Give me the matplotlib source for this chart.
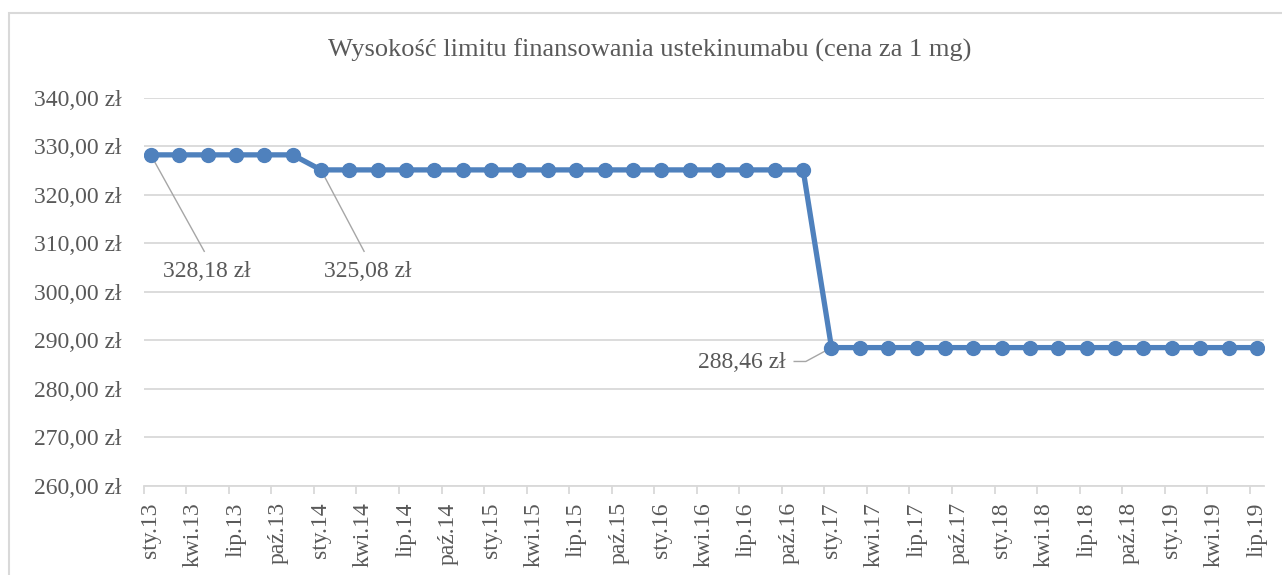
import matplotlib
matplotlib.use('Agg')
import matplotlib.pyplot as plt
from matplotlib.patches import Rectangle

# data: one point every two months, jan 2013 .. jul 2019
months = ['2013-01', '2013-03', '2013-05', '2013-07', '2013-09', '2013-11',
          '2014-01', '2014-03', '2014-05', '2014-07', '2014-09', '2014-11',
          '2015-01', '2015-03', '2015-05', '2015-07', '2015-09', '2015-11',
          '2016-01', '2016-03', '2016-05', '2016-07', '2016-09', '2016-11',
          '2017-01', '2017-03', '2017-05', '2017-07', '2017-09', '2017-11',
          '2018-01', '2018-03', '2018-05', '2018-07', '2018-09', '2018-11',
          '2019-01', '2019-03', '2019-05', '2019-07']
prices = [328.18, 328.18, 328.18, 328.18, 328.18, 328.18,
          325.08, 325.08, 325.08, 325.08, 325.08, 325.08,
          325.08, 325.08, 325.08, 325.08, 325.08, 325.08,
          325.08, 325.08, 325.08, 325.08, 325.08, 325.08,
          288.46, 288.46, 288.46, 288.46, 288.46, 288.46,
          288.46, 288.46, 288.46, 288.46, 288.46, 288.46,
          288.46, 288.46, 288.46, 288.46]
tick_labels = ['sty.13', 'kwi.13', 'lip.13', 'paź.13',
               'sty.14', 'kwi.14', 'lip.14', 'paź.14',
               'sty.15', 'kwi.15', 'lip.15', 'paź.15',
               'sty.16', 'kwi.16', 'lip.16', 'paź.16',
               'sty.17', 'kwi.17', 'lip.17', 'paź.17',
               'sty.18', 'kwi.18', 'lip.18', 'paź.18',
               'sty.19', 'kwi.19', 'lip.19']
title = 'Wysokość limitu finansowania ustekinumabu (cena za 1 mg)'

blue = '#4F81BD'
grey_txt = '#595959'
grid_c = '#D9D9D9'
font = 'Liberation Serif'
fs = 17

# month index from start of 2013, point sits in the middle of its month
def month_pos(s):
    y, m = s.split('-')
    return (int(y) - 2013) * 12 + int(m) - 1 + 0.5

x = [month_pos(m) for m in months]

W, H = 1282, 575
fig = plt.figure(figsize=(W / 100, H / 100), dpi=100)
fig.patches.append(Rectangle((9 / W, -0.05), 1.0, 1.05 - 13 / H, transform=fig.transFigure,
                             fill=False, edgecolor=grid_c, linewidth=1.5))

ax = fig.add_axes([143.7 / W, 89.3 / H, (1264 - 143.7) / W, (485.7 - 97.5) / H])
ax.plot(x, prices, color=blue, linewidth=3.8, marker='o', markersize=10,
        markeredgecolor=blue, zorder=3, solid_joinstyle='round')

ax.set_xlim(0, 79)
ax.set_ylim(260, 340)
ax.set_yticks(range(260, 341, 10))
ax.set_yticklabels(['%d,00 zł' % v for v in range(260, 341, 10)])
ax.grid(axis='y', color=grid_c, linewidth=1.3)
ax.set_axisbelow(True)

ax.set_xticks(range(0, 79, 3))
ax.set_xticklabels([])
ax.set_xticks([t + 0.5 for t in range(0, 79, 3)], minor=True)
ax.set_xticklabels(tick_labels, minor=True, rotation=90)
ax.tick_params(axis='x', which='major', length=6, color=grid_c, width=1.3)
ax.tick_params(axis='x', which='minor', length=0, pad=12, labelsize=fs,
               labelcolor=grey_txt)
ax.tick_params(axis='y', length=0, pad=16, labelsize=fs, labelcolor=grey_txt)
for lab in ax.get_xticklabels(minor=True) + ax.get_yticklabels():
    lab.set_fontfamily(font)

for s in ['left', 'right', 'top']:
    ax.spines[s].set_visible(False)
ax.spines['bottom'].set_color(grid_c)
ax.spines['bottom'].set_linewidth(1.3)

# data labels with leader lines
lead = '#A6A6A6'
ax.plot([x[0], 4.27], [prices[0], 308.3], color=lead, lw=1, zorder=2)
ax.text(4.45, 304.15, '328,18 zł', ha='center', va='center', fontsize=fs,
        color=grey_txt, family=font)
ax.plot([x[6], 15.54], [prices[6], 308.3], color=lead, lw=1, zorder=2)
ax.text(15.82, 304.15, '325,08 zł', ha='center', va='center', fontsize=fs,
        color=grey_txt, family=font)
ax.plot([45.87, 46.69, x[24]], [285.6, 285.6, prices[24]], color=lead, lw=1, zorder=2)
ax.text(45.3, 285.35, '288,46 zł', ha='right', va='center', fontsize=fs,
        color=grey_txt, family=font)

fig.text(650 / W, 1 - 50 / H, title, ha='center', va='center', fontsize=19,
         color=grey_txt, family=font)

fig.savefig('out.png', dpi=100)
